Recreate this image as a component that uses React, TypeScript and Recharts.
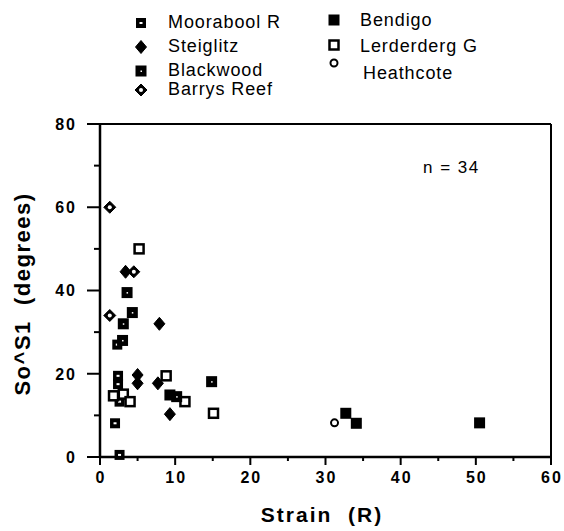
import { ScatterChart, Scatter, XAxis, YAxis, ReferenceLine } from 'recharts'

// readings: strain (R) vs So^S1 angle (degrees)
const mooraboolR = [
  { x: 2.3, y: 27 }, { x: 2.4, y: 19.5 }, { x: 2.4, y: 17.5 },
  { x: 2.6, y: 13.3 }, { x: 2.0, y: 8.1 }, { x: 2.6, y: 0.5 },
]
const steiglitz = [
  { x: 3.4, y: 44.5 }, { x: 7.9, y: 32 }, { x: 5.0, y: 19.7 },
  { x: 5.0, y: 17.7 }, { x: 7.7, y: 17.7 }, { x: 9.3, y: 10.3 },
]
const blackwood = [
  { x: 3.6, y: 39.5 }, { x: 4.3, y: 34.7 }, { x: 3.1, y: 32 },
  { x: 3.0, y: 28 }, { x: 10.2, y: 14.5 }, { x: 14.85, y: 18.1 },
]
const barrysReef = [{ x: 1.3, y: 60 }, { x: 4.5, y: 44.5 }, { x: 1.3, y: 34 }]
const bendigo = [{ x: 9.3, y: 14.9 }, { x: 32.7, y: 10.5 }, { x: 34.1, y: 8.1 }, { x: 50.5, y: 8.2 }]
const lerderdergG = [
  { x: 5.2, y: 50 }, { x: 8.8, y: 19.5 }, { x: 1.8, y: 14.7 }, { x: 3.1, y: 15.1 },
  { x: 4.0, y: 13.3 }, { x: 11.3, y: 13.3 }, { x: 15.1, y: 10.5 },
]
const heathcote = [{ x: 31.2, y: 8.2 }]

const xTicks = [0, 5, 10, 15, 20, 25, 30, 35, 40, 45, 50, 55, 60]
const yTicks = [0, 10, 20, 30, 40, 50, 60, 70, 80]

const FONT = '"Liberation Sans", Arial, Helvetica, sans-serif'

type Kind = 'moorabool' | 'steiglitz' | 'blackwood' | 'barrys' | 'bendigo' | 'lerderderg' | 'heathcote'

function Marker({ kind, cx, cy }: { kind: Kind; cx: number; cy: number }) {
  if (cx == null || cy == null) return null
  switch (kind) {
    case 'moorabool':
      return (
        <g>
          <rect x={cx - 5} y={cy - 5} width={10} height={10} fill="#000" />
          <rect x={cx - 1.5} y={cy - 1} width={3} height={2} fill="#fff" />
        </g>
      )
    case 'blackwood':
      return (
        <g>
          <rect x={cx - 5.5} y={cy - 5.5} width={11} height={11} fill="#000" />
          <rect x={cx - 0.5} y={cy - 0.5} width={1.5} height={1.5} fill="#fff" />
        </g>
      )
    case 'bendigo':
      return <rect x={cx - 5.5} y={cy - 5.5} width={11} height={11} fill="#000" />
    case 'lerderderg':
      return <rect x={cx - 4.5} y={cy - 4.5} width={9} height={9} fill="#fff" stroke="#000" strokeWidth={2.5} />
    case 'steiglitz':
      return <polygon points={`${cx},${cy - 6.5} ${cx + 5.5},${cy} ${cx},${cy + 6.5} ${cx - 5.5},${cy}`} fill="#000" stroke="#000" strokeWidth={1} strokeLinejoin="round" />
    case 'barrys':
      return (
        <g>
          <polygon points={`${cx},${cy - 6} ${cx + 6},${cy} ${cx},${cy + 6} ${cx - 6},${cy}`} fill="#000" strokeLinejoin="round" stroke="#000" strokeWidth={1} />
          <circle cx={cx} cy={cy} r={2} fill="#fff" />
        </g>
      )
    case 'heathcote':
      return <circle cx={cx} cy={cy} r={3.5} fill="#fff" stroke="#000" strokeWidth={2} />
  }
  return null
}

const shapeFor = (kind: Kind) => (props: any) => <Marker kind={kind} cx={props.cx} cy={props.cy} />

function YTick(props: any) {
  const { x, y, payload } = props
  const major = payload.value % 20 === 0
  return (
    <g>
      <line x1={x - (major ? 13 : 6)} x2={x} y1={y} y2={y} stroke="#000" strokeWidth={2} />
      {major && (
        <text x={x - 23} y={y} dy="0.36em" textAnchor="end" fontFamily={FONT} fontSize={16} fontWeight="bold" letterSpacing={2} fill="#000">
          {payload.value}
        </text>
      )}
    </g>
  )
}

function XTick(props: any) {
  const { x, y, payload } = props
  const major = payload.value % 10 === 0
  return (
    <g>
      <line x1={x} x2={x} y1={y} y2={y + (major ? 8 : 4)} stroke="#000" strokeWidth={2} />
      {major && (
        <text x={x + 1} y={y + 15} dy="0.71em" textAnchor="middle" fontFamily={FONT} fontSize={16} fontWeight="bold" letterSpacing={2} fill="#000">
          {payload.value}
        </text>
      )}
    </g>
  )
}

const legendCol1: { kind: Kind; label: string; y: number }[] = [
  { kind: 'moorabool', label: 'Moorabool R', y: 22 },
  { kind: 'steiglitz', label: 'Steiglitz', y: 46 },
  { kind: 'blackwood', label: 'Blackwood', y: 70 },
  { kind: 'barrys', label: 'Barrys Reef', y: 89 },
]
const legendCol2: { kind: Kind; label: string; y: number; my: number }[] = [
  { kind: 'bendigo', label: 'Bendigo', y: 20, my: 20 },
  { kind: 'lerderderg', label: 'Lerderderg G', y: 46, my: 45 },
  { kind: 'heathcote', label: 'Heathcote', y: 73, my: 63 },
]

export default function App() {
  return (
    <div style={{ position: 'absolute', left: 0, top: 0, width: 564, height: 531, background: '#fff' }}>
      <ScatterChart width={564} height={531} margin={{ top: 124, right: 13, bottom: 0, left: 0 }}>
        <XAxis
          type="number"
          dataKey="x"
          domain={[0, 60]}
          ticks={xTicks}
          interval={0}
          height={74}
          tickSize={0}
          tickMargin={0}
          tickLine={false}
          axisLine={{ stroke: '#000', strokeWidth: 2.5 }}
          tick={<XTick />}
        />
        <YAxis
          type="number"
          dataKey="y"
          domain={[0, 80]}
          ticks={yTicks}
          interval={0}
          width={100}
          tickSize={0}
          tickMargin={0}
          tickLine={false}
          axisLine={{ stroke: '#000', strokeWidth: 2.5 }}
          tick={<YTick />}
        />
        <ReferenceLine y={80} stroke="#000" strokeWidth={2} />
        <ReferenceLine x={60} stroke="#000" strokeWidth={2} />
        <Scatter data={mooraboolR} shape={shapeFor('moorabool')} isAnimationActive={false} />
        <Scatter data={lerderdergG} shape={shapeFor('lerderderg')} isAnimationActive={false} />
        <Scatter data={steiglitz} shape={shapeFor('steiglitz')} isAnimationActive={false} />
        <Scatter data={blackwood} shape={shapeFor('blackwood')} isAnimationActive={false} />
        <Scatter data={barrysReef} shape={shapeFor('barrys')} isAnimationActive={false} />
        <Scatter data={bendigo} shape={shapeFor('bendigo')} isAnimationActive={false} />
        <Scatter data={heathcote} shape={shapeFor('heathcote')} isAnimationActive={false} />
      </ScatterChart>
      <svg width={564} height={531} style={{ position: 'absolute', left: 0, top: 0, pointerEvents: 'none' }}>
        {legendCol1.map(d => (
          <g key={d.label}>
            <Marker kind={d.kind} cx={141} cy={d.y + 1} />
            <text x={168} y={d.y} dy="0.36em" fontFamily={FONT} fontSize={18} letterSpacing={0.9} fill="#000">{d.label}</text>
          </g>
        ))}
        {legendCol2.map(d => (
          <g key={d.label}>
            <Marker kind={d.kind} cx={334} cy={d.my} />
            <text x={d.kind === 'heathcote' ? 363 : 360} y={d.y} dy="0.36em" fontFamily={FONT} fontSize={18} letterSpacing={0.9} fill="#000">{d.label}</text>
          </g>
        ))}
        <text x={423} y={167} dy="0.36em" fontFamily={FONT} fontSize={17} letterSpacing={1.5} fill="#000" style={{ whiteSpace: 'pre' }}>n = 34</text>
        <text x={322} y={514} dy="0.36em" textAnchor="middle" fontFamily={FONT} fontSize={21} fontWeight="bold" letterSpacing={2} fill="#000" style={{ whiteSpace: 'pre' }}>Strain  (R)</text>
        <text transform="translate(22,294) rotate(-90)" textAnchor="middle" dy="0.36em" fontFamily={FONT} fontSize={22} fontWeight="bold" letterSpacing={1.5} fill="#000" style={{ whiteSpace: 'pre' }}>So^S1  (degrees)</text>
      </svg>
    </div>
  )
}
